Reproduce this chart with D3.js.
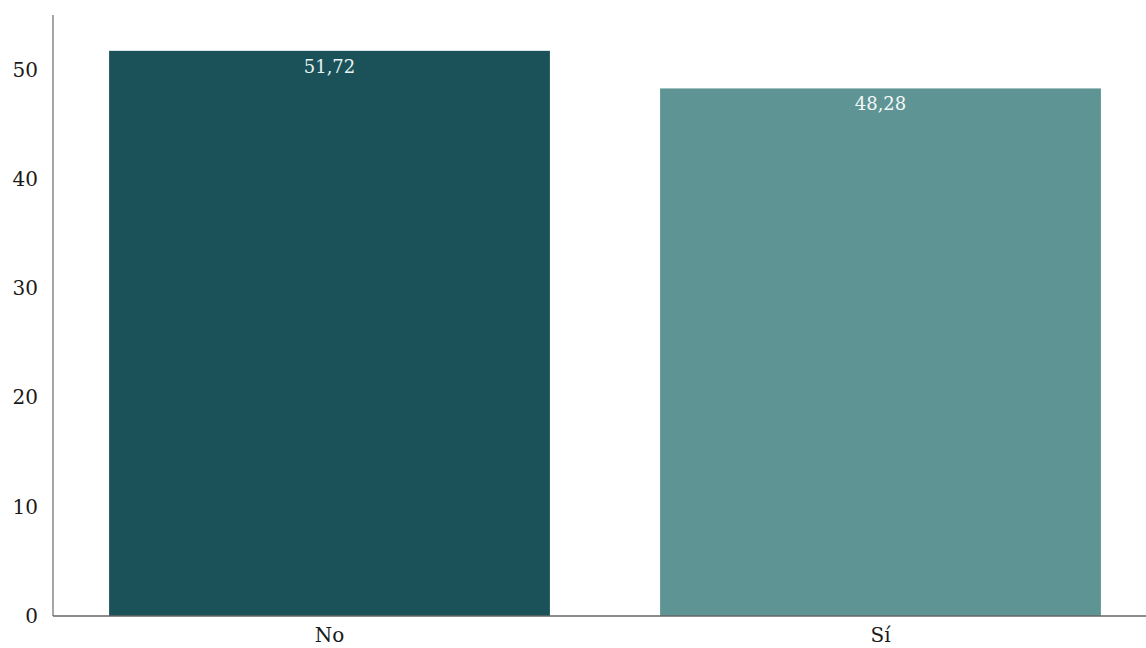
<!DOCTYPE html>
<html><head><meta charset="utf-8">
<script src="https://cdn.jsdelivr.net/npm/d3@7"></script>
<style>html,body{margin:0;padding:0;background:#fff;}</style>
</head><body>
<svg id="chart" width="1146" height="648"></svg>
<script>
const categories = ["No", "Sí"];
const values = [51.72, 48.28];
const valueLabels = ["51,72", "48,28"];
const yTicks = [0, 10, 20, 30, 40, 50];
const colors = ["#1b5158", "#5e9494"];
const labelColors = ["#e4f2f2", "#f4f8f8"];

const svg = d3.select("#chart");
const font = "'DejaVu Serif', serif";
const y = d3.scaleLinear().domain([0, 55]).range([616, 15]);
const x = d3.scaleBand().domain(categories).range([54, 1156]).paddingInner(0.2).paddingOuter(0.1);

svg.selectAll("rect.bar").data(categories).join("rect")
  .attr("class", "bar")
  .attr("x", d => x(d))
  .attr("width", x.bandwidth())
  .attr("y", (d, i) => y(values[i]))
  .attr("height", (d, i) => y(0) - y(values[i]))
  .attr("fill", (d, i) => colors[i]);

svg.selectAll("text.val").data(categories).join("text")
  .attr("class", "val")
  .attr("x", d => x(d) + x.bandwidth() / 2)
  .attr("y", (d, i) => y(values[i]) + 22)
  .attr("text-anchor", "middle")
  .attr("font-family", font)
  .attr("font-size", 18)
  .attr("fill", (d, i) => labelColors[i])
  .text((d, i) => valueLabels[i]);

// y axis
const yAxis = svg.append("g").attr("transform", "translate(53,0)")
  .call(d3.axisLeft(y).tickValues(yTicks).tickSize(0).tickPadding(15).tickFormat(d3.format("d")));
yAxis.select(".domain").remove();
yAxis.selectAll("text").attr("font-family", font).attr("font-size", 20).attr("fill", "#1a1a1a");
svg.append("line").attr("x1", 53).attr("x2", 53).attr("y1", y(55)).attr("y2", y(0))
  .attr("stroke", "#888").attr("stroke-width", 1.5);

// x axis
const xAxis = svg.append("g").attr("transform", "translate(0,616)")
  .call(d3.axisBottom(x).tickSize(0).tickPadding(12));
xAxis.select(".domain").remove();
xAxis.selectAll("text").attr("font-family", font).attr("font-size", 20).attr("fill", "#1a1a1a");
svg.append("line").attr("x1", 53).attr("x2", 1146).attr("y1", y(0)).attr("y2", y(0))
  .attr("stroke", "#666").attr("stroke-width", 1.5);
</script>
</body></html>
